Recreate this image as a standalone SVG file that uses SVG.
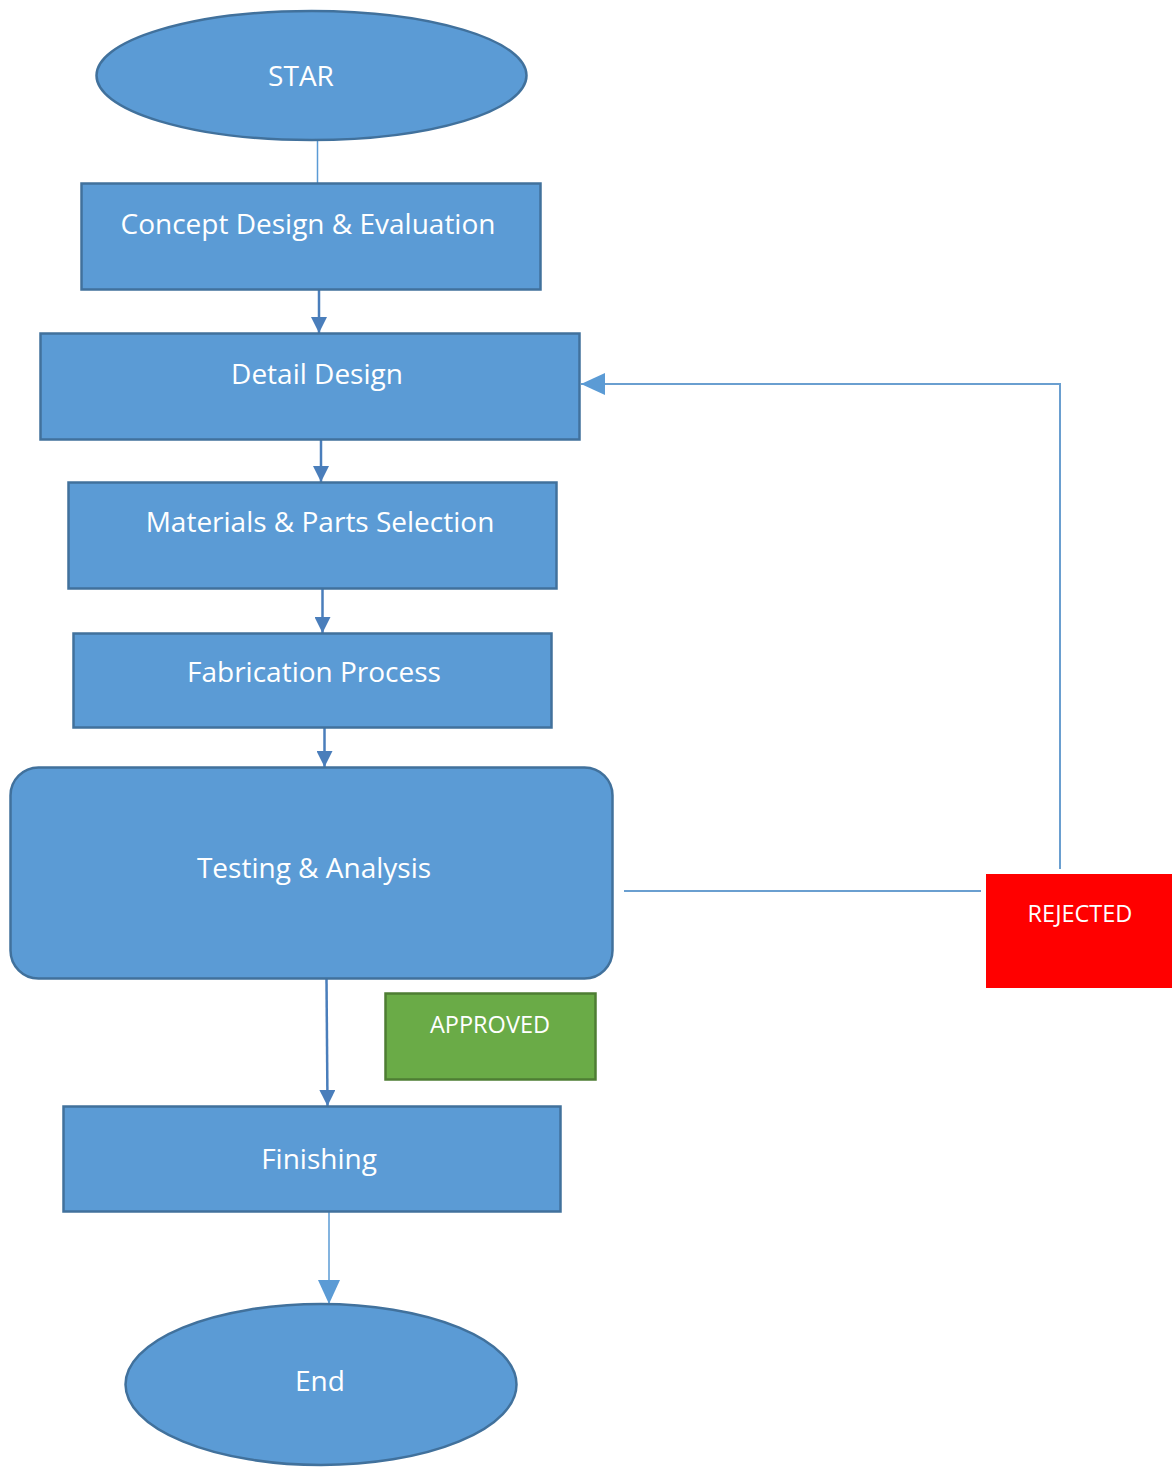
<svg xmlns="http://www.w3.org/2000/svg" width="1173" height="1467" viewBox="0 0 1173 1467">
<style>
.n{fill:#5B9BD5;stroke:#41719C;stroke-width:2.5}
.t{font-family:"Open Sans","Noto Sans",sans-serif;font-size:28px;fill:#FFFFFF;text-anchor:middle}
.s{font-family:"Open Sans","Noto Sans",sans-serif;font-size:23.5px;fill:#FFFFFF;text-anchor:middle}
.c{stroke:#4A7EBB;stroke-width:2.5;fill:none}
.l{stroke:#5B9BD5;stroke-width:1.5;fill:none}
.f{stroke:#6A9FD0;stroke-width:2;fill:none}
</style>
<defs>
<marker id="a" markerUnits="userSpaceOnUse" markerWidth="16" markerHeight="16" refX="16" refY="8" orient="auto"><path d="M0,0 L16,8 L0,16 Z" fill="#4A7EBB"/></marker>
<marker id="b" markerUnits="userSpaceOnUse" markerWidth="24" markerHeight="22" refX="24" refY="11" orient="auto"><path d="M0,0 L24,11 L0,22 Z" fill="#5B9BD5"/></marker>
</defs>
<g id="connectors">
<line class="l" x1="317.5" y1="140" x2="317.5" y2="183"/>
<line class="c" x1="319" y1="290" x2="319" y2="333" marker-end="url(#a)"/>
<line class="c" x1="321" y1="440" x2="321" y2="482" marker-end="url(#a)"/>
<line class="c" x1="322.5" y1="589" x2="322.5" y2="633" marker-end="url(#a)"/>
<line class="c" x1="324.5" y1="728" x2="324.5" y2="767" marker-end="url(#a)"/>
<line class="c" x1="326.5" y1="979" x2="327.5" y2="1106" marker-end="url(#a)"/>
<line class="l" x1="329" y1="1212" x2="329" y2="1304" marker-end="url(#b)"/>
<line class="f" x1="624" y1="891" x2="981" y2="891"/>
<polyline class="f" points="1060,869 1060,384 581,384" marker-end="url(#b)"/>
</g>
<g id="start"><ellipse class="n" cx="311.5" cy="75.5" rx="215" ry="64.5"/><text class="t" x="301" y="86">STAR</text></g>
<g id="concept"><rect class="n" x="81.5" y="183.5" width="459" height="106"/><text class="t" x="308" y="234">Concept Design &amp; Evaluation</text></g>
<g id="detail"><rect class="n" x="40.5" y="333.5" width="539" height="106"/><text class="t" x="317" y="384">Detail Design</text></g>
<g id="materials"><rect class="n" x="68.5" y="482.5" width="488" height="106"/><text class="t" x="320" y="532">Materials &amp; Parts Selection</text></g>
<g id="fabrication"><rect class="n" x="73.5" y="633.5" width="478" height="94"/><text class="t" x="314" y="682">Fabrication Process</text></g>
<g id="testing"><rect class="n" x="10.5" y="767.5" width="602" height="211" rx="28" ry="28"/><text class="t" x="314" y="878">Testing &amp; Analysis</text></g>
<g id="approved"><rect x="385.5" y="993.5" width="210" height="86" fill="#6AAB47" stroke="#4E7D33" stroke-width="2.5"/><text class="s" x="490" y="1033">APPROVED</text></g>
<g id="rejected"><rect x="986" y="874" width="186" height="114" fill="#FF0000"/><text class="s" x="1080" y="922">REJECTED</text></g>
<g id="finishing"><rect class="n" x="63.5" y="1106.5" width="497" height="105"/><text class="t" x="319" y="1169">Finishing</text></g>
<g id="end"><ellipse class="n" cx="321" cy="1384.5" rx="195.5" ry="80.5"/><text class="t" x="320" y="1391">End</text></g>
</svg>
